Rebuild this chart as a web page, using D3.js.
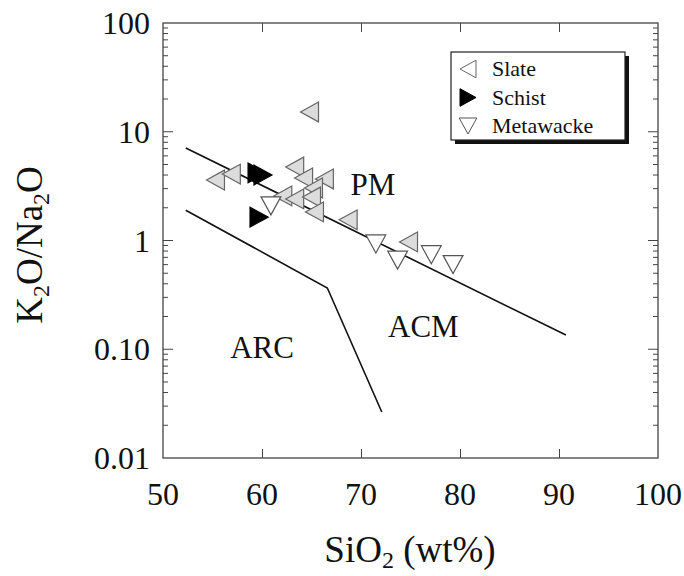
<!DOCTYPE html>
<html>
<head>
<meta charset="utf-8">
<script src="https://cdn.jsdelivr.net/npm/d3@7"></script>
<style>
  body { margin: 0; background: #fff; }
  svg text { font-family: "Liberation Serif", "Times New Roman", Times, serif; fill: #111; }
</style>
</head>
<body>
<div id="grafico"></div>
<script>
// dados (SiO2 wt%, K2O/Na2O)
const slateSiO2 = [64.8, 55.3, 56.9, 63.3, 64.2, 66.3, 65.2, 62.1, 63.3, 65.0, 65.3, 68.7, 74.8];
const slateRatio = [15.2, 3.6, 4.08, 4.74, 3.76, 3.68, 3.04, 2.57, 2.41, 2.51, 1.83, 1.55, 0.97];
const schistSiO2 = [59.5, 60.1, 59.7];
const schistRatio = [4.18, 4.0, 1.64];
const metaSiO2 = [60.9, 71.5, 73.7, 77.1, 79.3];
const metaRatio = [2.08, 0.93, 0.66, 0.74, 0.60];

// linhas de discriminacao
const linhaPM = [[52.3, 7.1], [90.7, 0.135]];
const linhaARC = [[52.3, 1.9], [66.6, 0.366], [72.1, 0.0265]];

const xTicks = [50, 60, 70, 80, 90, 100];
const yTicks = [100, 10, 1, 0.1, 0.01];
const yTickLabels = ["100", "10", "1", "0.10", "0.01"];

const legenda = ["Slate", "Schist", "Metawacke"];
const regioes = [{ nome: "PM", x: 71.2, y: 3.3 }, { nome: "ARC", x: 60.0, y: 0.105 },
                 { nome: "ACM", x: 76.3, y: 0.165 }];

const largura = 684, altura = 576;
const esq = 163, dir = 658, topo = 23, base = 458;

const svg = d3.select("#grafico").append("svg")
    .attr("width", largura)
    .attr("height", altura);

const x = d3.scaleLinear().domain([50, 100]).range([esq, dir]);
const y = d3.scaleLog().domain([0.01, 100]).range([base, topo]);

// moldura
svg.append("rect")
    .attr("x", esq).attr("y", topo)
    .attr("width", dir - esq).attr("height", base - topo)
    .attr("fill", "none").attr("stroke", "#444").attr("stroke-width", 1.3);

// ticks do eixo x (para dentro, em baixo e em cima)
const xInner = xTicks.filter(d => d > 50 && d < 100);
svg.append("g").attr("transform", `translate(0,${base})`)
    .call(d3.axisBottom(x).tickValues(xInner).tickSize(-9).tickFormat(""))
    .call(g => g.select(".domain").remove())
    .selectAll("line").attr("stroke", "#444");
svg.append("g").attr("transform", `translate(0,${topo})`)
    .call(d3.axisTop(x).tickValues(xInner).tickSize(-9).tickFormat(""))
    .call(g => g.select(".domain").remove())
    .selectAll("line").attr("stroke", "#444");

// ticks menores do eixo y (log)
const minores = [];
[0.01, 0.1, 1, 10].forEach(dec => {
    for (let k = 2; k <= 9; k++) minores.push(dec * k);
});
[[esq, 1], [dir, -1]].forEach(([px, s]) => {
    svg.append("g").selectAll("line.menor")
        .data(minores).enter().append("line")
        .attr("x1", px).attr("x2", px + s * 5)
        .attr("y1", d => y(d)).attr("y2", d => y(d))
        .attr("stroke", "#444");
    svg.append("g").selectAll("line.maior")
        .data(yTicks.slice(1, -1)).enter().append("line")
        .attr("x1", px).attr("x2", px + s * 10)
        .attr("y1", d => y(d)).attr("y2", d => y(d))
        .attr("stroke", "#444");
});

// rotulos dos eixos
svg.selectAll(".xlab").data(xTicks).enter().append("text")
    .attr("x", d => x(d)).attr("y", 505)
    .attr("text-anchor", "middle")
    .style("font-size", "32px")
    .text(d => d);
svg.selectAll(".ylab").data(yTicks).enter().append("text")
    .attr("x", 150).attr("y", d => y(d) + 11)
    .attr("text-anchor", "end")
    .style("font-size", "32px")
    .text((d, i) => yTickLabels[i]);

svg.append("text")
    .attr("x", 410).attr("y", 562)
    .attr("text-anchor", "middle")
    .style("font-size", "37px")
    .html('SiO<tspan dy="6" font-size="24px">2</tspan><tspan dy="-6"> (wt%)</tspan>');

svg.append("text")
    .attr("transform", "translate(42,245) rotate(-90)")
    .attr("text-anchor", "middle")
    .style("font-size", "37px")
    .html('K<tspan dy="7" font-size="24px">2</tspan><tspan dy="-7">O/Na</tspan><tspan dy="7" font-size="24px">2</tspan><tspan dy="-7">O</tspan>');

// linhas
const linha = d3.line().x(d => x(d[0])).y(d => y(d[1]));
[linhaPM, linhaARC].forEach(l => {
    svg.append("path").attr("d", linha(l))
        .attr("fill", "none").attr("stroke", "#111").attr("stroke-width", 1.6);
});

// rotulos das regioes
svg.selectAll(".regiao").data(regioes).enter().append("text")
    .attr("x", d => x(d.x)).attr("y", d => y(d.y) + 11)
    .attr("text-anchor", "middle")
    .style("font-size", "31px")
    .text(d => d.nome);

// triangulos
function triangulo(dirc, r) {
    if (dirc === "left") return `M${-r},0L${r},${-r * 1.1}L${r},${r * 1.1}Z`;
    if (dirc === "right") return `M${r},0L${-r},${-r * 1.1}L${-r},${r * 1.1}Z`;
    return `M0,${r}L${-r * 1.1},${-r}L${r * 1.1},${-r}Z`;
}

const estilos = {
    Slate: { dir: "left", fill: "#dcdcdc", stroke: "#666" },
    Schist: { dir: "right", fill: "#000", stroke: "#000" },
    Metawacke: { dir: "down", fill: "#fff", stroke: "#555" }
};

function pontos(xs, ys, nome) {
    const e = estilos[nome];
    svg.append("g").selectAll("path")
        .data(xs.map((v, i) => [v, ys[i]])).enter().append("path")
        .attr("transform", d => `translate(${x(d[0])},${y(d[1])})`)
        .attr("d", triangulo(e.dir, 9))
        .attr("fill", e.fill).attr("stroke", e.stroke).attr("stroke-width", 1.2);
}
pontos(slateSiO2, slateRatio, "Slate");
pontos(schistSiO2, schistRatio, "Schist");
pontos(metaSiO2, metaRatio, "Metawacke");

// legenda
const leg = svg.append("g");
leg.append("rect").attr("x", 455).attr("y", 56)
    .attr("width", 174).attr("height", 88).attr("fill", "#111");
leg.append("rect").attr("x", 451).attr("y", 52)
    .attr("width", 174).attr("height", 88)
    .attr("fill", "#fff").attr("stroke", "#222").attr("stroke-width", 1.2);
legenda.forEach((nome, i) => {
    const e = estilos[nome];
    const cy = 69 + i * 28.5;
    leg.append("path")
        .attr("transform", `translate(468,${cy})`)
        .attr("d", triangulo(e.dir, 8))
        .attr("fill", nome === "Slate" ? "#fff" : e.fill)
        .attr("stroke", e.stroke).attr("stroke-width", 1);
    leg.append("text").attr("x", 492).attr("y", cy + 7)
        .style("font-size", "22px").text(nome);
});
</script>
</body>
</html>
